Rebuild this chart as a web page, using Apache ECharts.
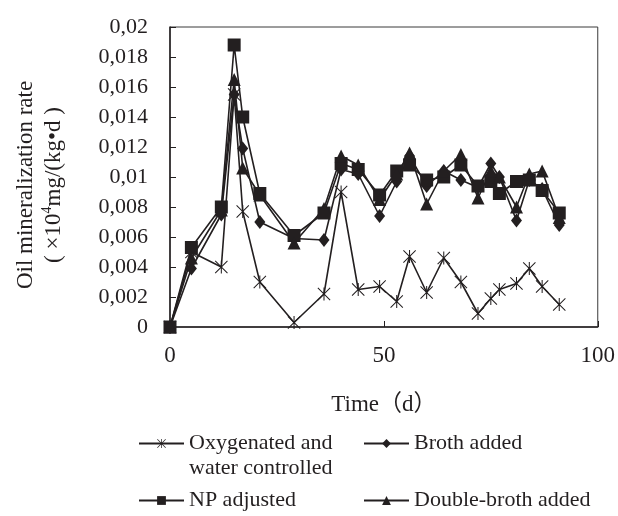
<!DOCTYPE html>
<html>
<head>
<meta charset="utf-8">
<script src="https://cdn.jsdelivr.net/npm/echarts@6/dist/echarts.min.js"></script>
<style>html,body{margin:0;padding:0;background:#fff;}#c{width:618px;height:516px;}</style>
</head>
<body>
<div id="c"></div>
<script>
var days = [0, 5, 12, 15, 17, 21, 29, 36, 40, 44, 49, 53, 56, 60, 64, 68, 72, 75, 77, 81, 84, 87, 91];
var oxygenated = [0, 0.0050, 0.0040, 0.0155, 0.0077, 0.0030, 0.0003, 0.0022, 0.0090, 0.0025, 0.0027, 0.0017, 0.0047, 0.0023, 0.0046, 0.0030, 0.0009, 0.0019, 0.0025, 0.0029, 0.0039, 0.0027, 0.0015];
var broth = [0, 0.0039, 0.0075, 0.0155, 0.0119, 0.0070, 0.0059, 0.0058, 0.0105, 0.0102, 0.0074, 0.0097, 0.0114, 0.0094, 0.0104, 0.0098, 0.0093, 0.0109, 0.0100, 0.0071, 0.0098, 0.0092, 0.0068];
var npAdjusted = [0, 0.0053, 0.0080, 0.0188, 0.0140, 0.0089, 0.0061, 0.0076, 0.0109, 0.0105, 0.0088, 0.0104, 0.0108, 0.0098, 0.0100, 0.0108, 0.0094, 0.0097, 0.0089, 0.0097, 0.0098, 0.0091, 0.0076];
var doubleBroth = [0, 0.0046, 0.0078, 0.0165, 0.0106, 0.0088, 0.0056, 0.0079, 0.0114, 0.0108, 0.0085, 0.0102, 0.0116, 0.0082, 0.0104, 0.0115, 0.0086, 0.0104, 0.0100, 0.0080, 0.0102, 0.0104, 0.0073];
var seriesNames = ['Oxygenated and\nwater controlled', 'Broth added', 'NP adjusted', 'Double-broth added'];
var xTicks = [0, 50, 100];
var yTicks = [0, 0.002, 0.004, 0.006, 0.008, 0.01, 0.012, 0.014, 0.016, 0.018, 0.02];

function pairs(vals) { return days.map(function (d, i) { return [d, vals[i]]; }); }

var INK = '#231f20';
var FONT = '"Liberation Serif", "Times New Roman", "Noto Sans CJK SC", serif';
var asterisk = 'path://M9.2,0 L10.8,0 L10.8,20 L9.2,20 Z M0,1.1 L1.1,0 L20,18.9 L18.9,20 Z M18.9,0 L20,1.1 L1.1,20 L0,18.9 Z';

function mkSeries(name, vals, symbol, size) {
  return {
    name: name, type: 'line', data: pairs(vals), symbol: symbol, symbolSize: size,
    lineStyle: { color: INK, width: 1.6 },
    itemStyle: { color: INK, borderWidth: 0 },
    emphasis: { disabled: true }, animation: false
  };
}

function mkLegend(name, left, top, fmt) {
  return {
    data: [name], left: left, top: top, orient: 'horizontal',
    itemWidth: 45, itemHeight: 11, padding: 0, selectedMode: false,
    formatter: fmt || function (n) { return n; },
    textStyle: { fontFamily: FONT, fontSize: 22, color: INK, lineHeight: 25 }
  };
}

var chart = echarts.init(document.getElementById('c'), null, { renderer: 'canvas' });
chart.setOption({
  backgroundColor: '#fff',
  animation: false,
  grid: { left: 170, right: 20, top: 27, bottom: 189, show: true, borderColor: '#3a3a3a', borderWidth: 1, backgroundColor: 'transparent' },
  xAxis: {
    type: 'value', min: xTicks[0], max: xTicks[xTicks.length - 1], interval: 50,
    name: 'Time（d）', nameLocation: 'middle', nameGap: 66,
    nameTextStyle: { fontFamily: FONT, fontSize: 23, color: INK },
    axisLine: { lineStyle: { color: INK, width: 1.5 } },
    axisTick: { inside: true, length: 6, lineStyle: { color: INK } },
    axisLabel: { fontFamily: FONT, fontSize: 23, color: INK, margin: 17 },
    splitLine: { show: false }
  },
  yAxis: {
    type: 'value', min: yTicks[0], max: yTicks[yTicks.length - 1], interval: 0.002,
    name: 'Oil mineralization rate\n( ×10{sup|4}mg/(kg•d )', nameLocation: 'middle', nameRotate: 90, nameGap: 102,
    nameTextStyle: {
      fontFamily: FONT, fontSize: 23, color: INK, lineHeight: 28, padding: [0, 16, 0, 0],
      rich: {
        sup: { fontFamily: FONT, fontSize: 14, color: INK, verticalAlign: 'top', lineHeight: 28, padding: [0, 0, 8, 0] }
      }
    },
    axisLine: { show: true, lineStyle: { color: INK, width: 1.5 } },
    axisTick: { show: true, inside: true, length: 6, lineStyle: { color: INK } },
    axisLabel: {
      fontFamily: FONT, fontSize: 22, color: INK, margin: 22,
      formatter: function (v) { return String(+v.toFixed(3)).replace('.', ','); }
    },
    splitLine: { show: false }
  },
  legend: [
    mkLegend(seriesNames[0], 138, 406, function (n) { return '\n' + n; }),
    mkLegend(seriesNames[1], 363, 431),
    mkLegend(seriesNames[2], 138, 488),
    mkLegend(seriesNames[3], 363, 488)
  ],
  series: [
    mkSeries(seriesNames[0], oxygenated, asterisk, 13),
    mkSeries(seriesNames[1], broth, 'diamond', [11, 14]),
    mkSeries(seriesNames[2], npAdjusted, 'rect', 13),
    mkSeries(seriesNames[3], doubleBroth, 'triangle', 13)
  ]
});
</script>
</body>
</html>
